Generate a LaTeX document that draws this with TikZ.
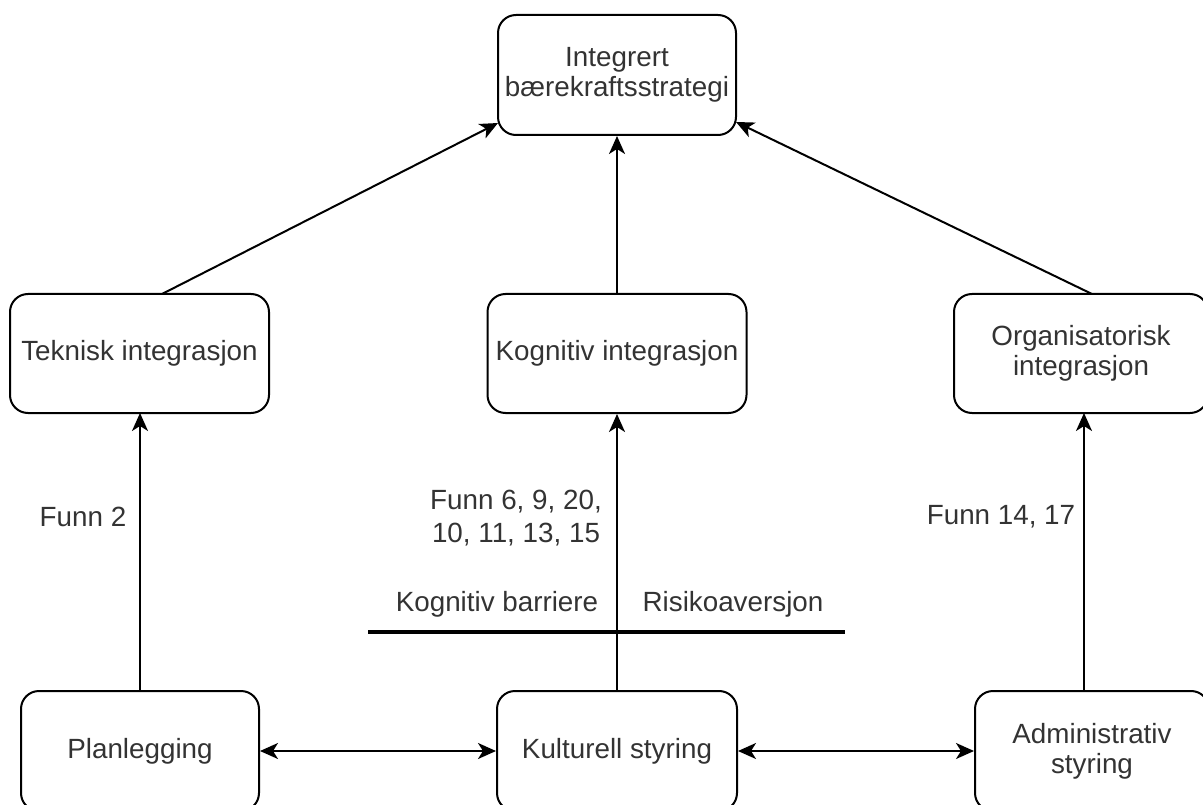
\documentclass[tikz,border=0pt]{standalone}
\usepackage{fontspec}
\setmainfont{Liberation Sans}
\usetikzlibrary{arrows.meta,calc}
\definecolor{txt}{HTML}{333333}
\begin{document}
\begin{tikzpicture}[x=1pt,y=-1pt,
  box/.style={draw, line width=2pt, rounded corners=18pt, align=center, inner sep=0pt,
    font=\fontsize{27.8}{30}\selectfont, text=txt},
  lbl/.style={font=\fontsize{27.8}{33}\selectfont, text=txt, align=center, inner sep=0pt},
  tipA/.tip={Stealth[length=18pt,width=16pt,inset=5pt]},
  arr/.style={line width=2pt, -tipA},
  darr/.style={line width=2pt, tipA-tipA}]
\useasboundingbox (0,0) rectangle (1203,805);
\clip (0,0) rectangle (1203,805);
% nodes
\node[box, minimum width=238pt, minimum height=120pt] (top) at (617,75) {Integrert\\bærekraftsstrategi};
\node[box, minimum width=259pt, minimum height=119pt] (tek) at (139.5,353.5) {Teknisk integrasjon};
\node[box, minimum width=259pt, minimum height=119pt] (kog) at (617,353.5) {Kognitiv integrasjon};
\node[box, minimum width=254pt, minimum height=119pt] (org) at (1081,353.5) {Organisatorisk\\integrasjon};
\node[box, minimum width=238pt, minimum height=120pt] (pla) at (140,751) {Planlegging};
\node[box, minimum width=240pt, minimum height=120pt] (kul) at (617,751) {Kulturell styring};
\node[box, minimum width=234pt, minimum height=120pt] (adm) at (1092,751) {Administrativ\\styring};
% coordinates
\coordinate (pla-up) at (140,691);
\coordinate (tek-dn) at (140,413);
\coordinate (adm-up) at (1084,691);
\coordinate (org-dn) at (1084,413);
\coordinate (tek-up) at (162,294);
\coordinate (org-up) at (1092,294);
\coordinate (top-l) at (498,123);
\coordinate (top-r) at (736,122);
\coordinate (bar-l) at (368,632);
\coordinate (bar-r) at (845,632);
% connectors
\draw[arr] (tek-up) -- (top-l);
\draw[arr] (kog.north) -- (top.south);
\draw[arr] (org-up) -- (top-r);
\draw[arr] (pla-up) -- (tek-dn);
\draw[arr] (kul.north) -- (kog.south);
\draw[arr] (adm-up) -- (org-dn);
\draw[darr] (pla.east) -- (kul.west);
\draw[darr] (kul.east) -- (adm.west);
% barrier line
\draw[line width=4pt] (bar-l) -- (bar-r);
% labels
\node[lbl] (f2) at (83,517) {Funn 2};
\node[lbl] (f6) at (516,518) {Funn 6, 9, 20,\\10, 11, 13, 15};
\node[lbl] (f14) at (1001,517) {Funn 14, 17};
\node[lbl] (kb) at (497,604) {Kognitiv barriere};
\node[lbl] (ra) at (733,604) {Risikoaversjon};
\end{tikzpicture}
\end{document}
